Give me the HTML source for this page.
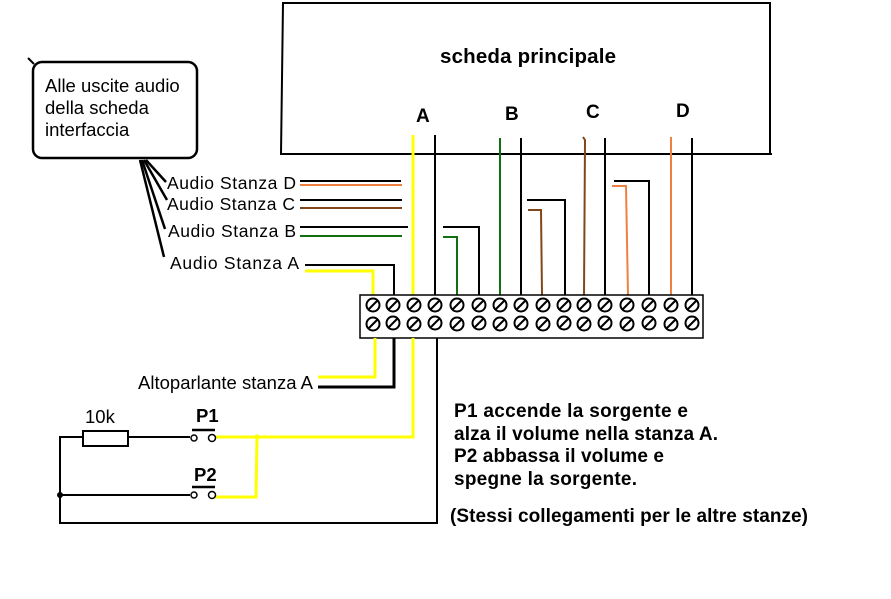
<!DOCTYPE html>
<html><head><meta charset="utf-8"><style>
body{margin:0;background:#fff}
svg text{font-family:"Liberation Sans",Arial,sans-serif}
</style></head><body>
<svg width="891" height="594" viewBox="0 0 891 594" xmlns="http://www.w3.org/2000/svg">
<defs>
<g id="s"><circle r="6.5" fill="#fff" stroke="#000" stroke-width="2"/><line x1="-4" y1="4" x2="4" y2="-4" stroke="#000" stroke-width="2"/></g>
</defs>
<rect width="891" height="594" fill="#fff"/>
<polyline points="281,154 283,3 770,3 770,154" fill="none" stroke="#000" stroke-width="2"/>
<line x1="280" y1="154" x2="772" y2="154" stroke="#000" stroke-width="2"/>
<text x="440" y="63" font-size="20.5" font-weight="bold" textLength="176">scheda principale</text>
<text x="416" y="122" font-size="19" font-weight="bold">A</text>
<text x="505" y="120" font-size="19" font-weight="bold">B</text>
<text x="586" y="118" font-size="19" font-weight="bold">C</text>
<text x="676" y="117" font-size="19" font-weight="bold">D</text>

<rect x="33" y="62" width="164" height="96" rx="9" fill="#fff" stroke="#000" stroke-width="2.5"/>
<line x1="28" y1="58" x2="34" y2="64" stroke="#000" stroke-width="2"/>
<text font-size="18.5"><tspan x="45" y="92">Alle uscite audio</tspan><tspan x="45" y="114">della scheda</tspan><tspan x="45" y="136">interfaccia</tspan></text>
<g stroke="#000" stroke-width="2.5">
<line x1="146" y1="160" x2="166" y2="182"/>
<line x1="144" y1="160" x2="167" y2="200"/>
<line x1="142" y1="160" x2="165" y2="229"/>
<line x1="140" y1="160" x2="164" y2="257"/>
</g>
<g font-size="17.5">
<text x="167" y="189" textLength="129">Audio Stanza D</text>
<text x="167" y="210" textLength="128">Audio Stanza C</text>
<text x="168" y="237" textLength="128">Audio Stanza B</text>
<text x="170" y="269" textLength="129">Audio Stanza A</text>
</g>

<g fill="none" stroke-width="2">
<line x1="300" y1="181" x2="401" y2="181" stroke="#000"/>
<line x1="300" y1="185" x2="402" y2="185" stroke="#f08040"/>
<line x1="300" y1="200" x2="402" y2="200" stroke="#000"/>
<line x1="300" y1="208" x2="402" y2="208" stroke="#804818"/>
<line x1="300" y1="227" x2="408" y2="227" stroke="#000"/>
<line x1="300" y1="236" x2="402" y2="236" stroke="#107010"/>
<polyline points="305,265 394,265 394,295" stroke="#000"/>
<polyline points="305,271 373,271 373,295" stroke="#ffff00" stroke-width="3"/>
<line x1="413" y1="135" x2="413" y2="295" stroke="#ffff00" stroke-width="3"/>
<line x1="435" y1="135" x2="435" y2="295" stroke="#000"/>
<line x1="500" y1="138" x2="500" y2="295" stroke="#107010"/>
<line x1="521" y1="138" x2="521" y2="295" stroke="#000"/>
<polyline points="583,137 585,140 584,295" stroke="#804818"/>
<line x1="605" y1="138" x2="605" y2="295" stroke="#000"/>
<line x1="671" y1="137" x2="671" y2="295" stroke="#f08040"/>
<line x1="692" y1="138" x2="692" y2="295" stroke="#000"/>
<polyline points="443,227 479,227 479,295" stroke="#000"/>
<polyline points="443,237 457,237 457,295" stroke="#107010"/>
<polyline points="527,200 565,200 565,295" stroke="#000"/>
<polyline points="528,210 541,210 542,295" stroke="#804818"/>
<polyline points="614,181 649,181 649,295" stroke="#000"/>
<polyline points="612,186 626,186 628,295" stroke="#f08040"/>
</g>

<rect x="360" y="295" width="343" height="43" fill="#fff" stroke="#000" stroke-width="1.5"/>
<g>
<use href="#s" x="373" y="305"/><use href="#s" x="393" y="305"/><use href="#s" x="414" y="305"/><use href="#s" x="435" y="305"/>
<use href="#s" x="457" y="305"/><use href="#s" x="479" y="305"/><use href="#s" x="500" y="305"/><use href="#s" x="521" y="305"/>
<use href="#s" x="543" y="305"/><use href="#s" x="564" y="305"/><use href="#s" x="584" y="305"/><use href="#s" x="605" y="305"/>
<use href="#s" x="627" y="305"/><use href="#s" x="649" y="305"/><use href="#s" x="671" y="305"/><use href="#s" x="692" y="305"/>
<use href="#s" x="373" y="324"/><use href="#s" x="393" y="323"/><use href="#s" x="414" y="324"/><use href="#s" x="435" y="323"/>
<use href="#s" x="457" y="324"/><use href="#s" x="479" y="323"/><use href="#s" x="500" y="324"/><use href="#s" x="521" y="323"/>
<use href="#s" x="543" y="324"/><use href="#s" x="564" y="323"/><use href="#s" x="584" y="324"/><use href="#s" x="605" y="323"/>
<use href="#s" x="627" y="324"/><use href="#s" x="649" y="323"/><use href="#s" x="671" y="324"/><use href="#s" x="692" y="323"/>
</g>

<g fill="none">
<polyline points="375,338 375,377 318,377" stroke="#ffff00" stroke-width="3"/>
<polyline points="394,338 394,387 318,387" stroke="#000" stroke-width="3"/>
<polyline points="413,338 413,437 215,437" stroke="#ffff00" stroke-width="3"/>
<polyline points="257,437 256,497 214,497" stroke="#ffff00" stroke-width="3"/>
<polyline points="437,338 437,523 60,523 60,437 83,437" stroke="#000" stroke-width="2"/>
<line x1="128" y1="437" x2="190" y2="437" stroke="#000" stroke-width="2"/>
<line x1="60" y1="495" x2="190" y2="495" stroke="#000" stroke-width="2"/>
<rect x="83" y="431" width="45" height="15" fill="#fff" stroke="#000" stroke-width="2"/>
</g>
<circle cx="60" cy="495" r="3" fill="#000"/>
<circle cx="257" cy="437" r="2.5" fill="#ffff00"/>
<g fill="#fff" stroke="#000" stroke-width="1.5">
<circle cx="194" cy="438" r="3"/><circle cx="212" cy="438" r="3.5"/>
<circle cx="194" cy="495" r="3"/><circle cx="212" cy="495" r="3.5"/>
</g>
<line x1="192" y1="430" x2="215" y2="430" stroke="#000" stroke-width="2.5"/>
<line x1="192" y1="487" x2="215" y2="487" stroke="#000" stroke-width="2.5"/>
<text x="85" y="423" font-size="18.5">10k</text>
<text x="196" y="422" font-size="18.5" font-weight="bold">P1</text>
<text x="194" y="481" font-size="18.5" font-weight="bold">P2</text>
<text x="138" y="389" font-size="18.5" textLength="175">Altoparlante stanza A</text>

<g font-size="19" font-weight="bold">
<text x="454" y="417" textLength="234">P1 accende la sorgente e</text>
<text x="454" y="440" textLength="264">alza il volume nella stanza A.</text>
<text x="454" y="462" textLength="210">P2 abbassa il volume e</text>
<text x="454" y="485" textLength="183">spegne la sorgente.</text>
<text x="450" y="522" textLength="358">(Stessi collegamenti per le altre stanze)</text>
</g>
</svg>
</body></html>
